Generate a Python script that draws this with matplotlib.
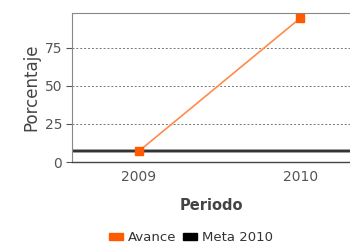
import matplotlib
matplotlib.use("Agg")
import matplotlib.pyplot as plt
from matplotlib.patches import Patch

periods = ["2009", "2010"]
avance = [7.2, 94.5]
meta_2010 = 7.2
y_ticks = [0, 25, 50, 75]

plt.rcParams['font.family'] = ['DejaVu Sans']

fig = plt.figure(figsize=(3.5, 2.45), dpi=100)
ax = fig.add_axes([72 / 350, 1 - 162 / 245, 278 / 350, 149 / 245])

x = list(range(len(periods)))
# meta line: dark core with a soft grey edge
ax.axhline(meta_2010, color="#9a9a9a", lw=2.8, zorder=2)
ax.axhline(meta_2010, color="#2a2a2a", lw=1.3, zorder=2)
ax.plot(x, avance, color="#ff8a4a", lw=1.2, zorder=3)
ax.plot(x, avance, ls="none", marker="s", ms=6, color="#ff5a00", zorder=4)

ax.set_xlim(-0.416, 1.31)
ax.set_ylim(0, 98)
ax.set_xticks(x)
ax.set_xticklabels(periods)
ax.set_yticks(y_ticks)
ax.yaxis.grid(True, ls=(0, (2, 2)), color="#777777", lw=0.7)
ax.set_axisbelow(True)

for s in ["top", "left"]:
    ax.spines[s].set_color("#888888")
ax.spines["bottom"].set_color("#444444")
ax.spines["bottom"].set_linewidth(1.0)
ax.spines["right"].set_visible(False)
ax.tick_params(axis="both", length=0, labelsize=10, colors="#555555", pad=6)
ax.tick_params(axis="y", length=4, color="#555555", pad=3)

ax.set_ylabel("Porcentaje", fontsize=12, color="#444444", labelpad=3)
ax.set_xlabel("Periodo", fontsize=10.5, fontweight="bold", color="#444444", labelpad=10)

handles = [Patch(color="#ff5a00"), Patch(color="#000000")]
fig.legend(handles, ["Avance", "Meta 2010"], loc="lower center", bbox_to_anchor=(0.545, -0.045),
           ncol=2, frameon=False, fontsize=9.5, handlelength=1.1, handleheight=0.55,
           handletextpad=0.35, columnspacing=0.5, labelcolor="#333333")

fig.savefig("out.png", dpi=100)
